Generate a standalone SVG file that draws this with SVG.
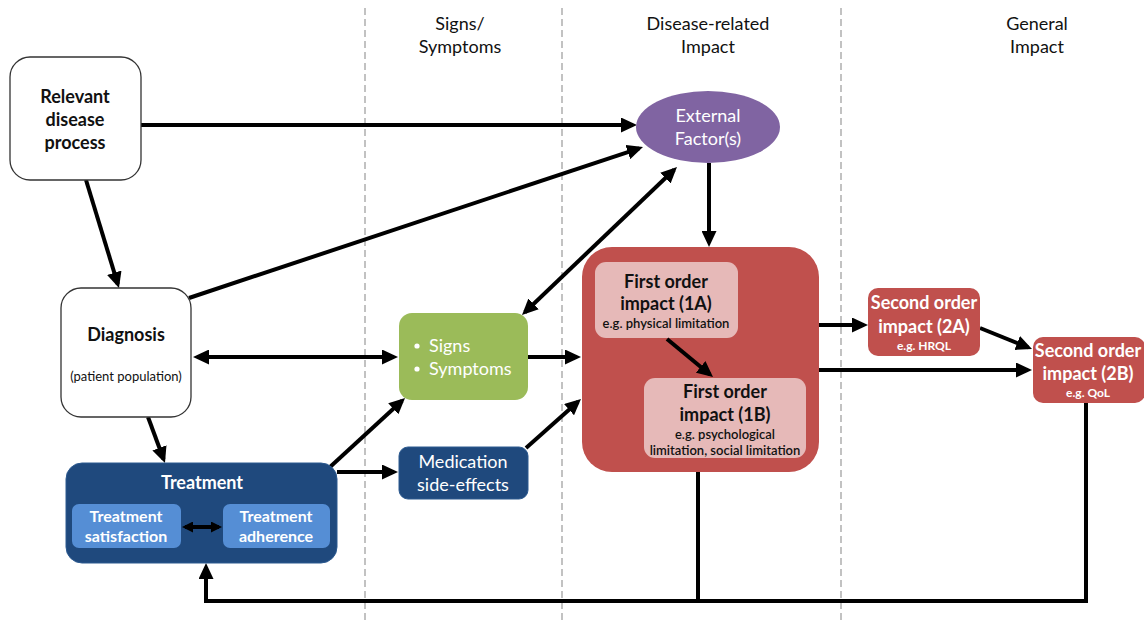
<svg xmlns="http://www.w3.org/2000/svg" width="1144" height="621" viewBox="0 0 1144 621">
<style>
text{font-family:Lato,"Open Sans","Liberation Sans",sans-serif;text-anchor:middle}
.hdr{font-size:18px;fill:#111}
.b{font-weight:bold}
.w{fill:#fff}
.k{fill:#111}
.n17{font-size:18px}
.n15{font-size:16px}
.s12{font-size:13px}
.s11{font-size:12px}
.dash{stroke:#9a9a9a;stroke-width:1.2;stroke-dasharray:7,4;fill:none}
.c{stroke:#000;stroke-width:4;fill:none}
</style>
<defs>
<marker id="ah" markerUnits="userSpaceOnUse" markerWidth="16" markerHeight="15" viewBox="0 0 16 15" refX="12" refY="7.5" orient="auto-start-reverse">
<path d="M0,0 L16,7.5 L0,15 z" fill="#000"/>
</marker>
<marker id="ahs" markerUnits="userSpaceOnUse" markerWidth="11" markerHeight="11" viewBox="0 0 11 11" refX="8" refY="5.5" orient="auto-start-reverse">
<path d="M0,0 L11,5.5 L0,11 z" fill="#000"/>
</marker>
</defs>

<g id="dividers">
<line class="dash" x1="365" y1="8" x2="365" y2="621"/>
<line class="dash" x1="562" y1="8" x2="562" y2="621"/>
<line class="dash" x1="841" y1="8" x2="841" y2="621"/>
</g>

<g id="headers">
<text class="hdr" x="460" y="30">Signs/</text>
<text class="hdr" x="460" y="53">Symptoms</text>
<text class="hdr" x="708" y="30">Disease-related</text>
<text class="hdr" x="708" y="53">Impact</text>
<text class="hdr" x="1037" y="30">General</text>
<text class="hdr" x="1037" y="53">Impact</text>
</g>

<g id="connectors">
<path class="c" d="M141,125 L633,125" marker-end="url(#ah)"/>
<path class="c" d="M86,180 L117.8,284.2" marker-end="url(#ah)"/>
<path class="c" d="M189,298 L639.2,148.3" marker-end="url(#ah)"/>
<path class="c" d="M197,357 L394,357" marker-start="url(#ah)" marker-end="url(#ah)"/>
<path class="c" d="M524.9,312.2 L674.1,169.8" marker-start="url(#ah)" marker-end="url(#ah)"/>
<path class="c" d="M528,357 L577,357" marker-end="url(#ah)"/>
<path class="c" d="M148,417 L163.6,459.2" marker-end="url(#ah)"/>
<path class="c" d="M330,467 L402.1,400.7" marker-end="url(#ah)"/>
<path class="c" d="M337,472 L394,472" marker-end="url(#ah)"/>
<path class="c" d="M526,448 L578,401.7" marker-end="url(#ah)"/>
<path class="c" d="M709,163 L709,243" marker-end="url(#ah)"/>
<path class="c" d="M819,325 L864,325" marker-end="url(#ah)"/>
<path class="c" d="M980,328 L1028.3,347.5" marker-end="url(#ah)"/>
<path class="c" d="M819,370 L1028,370" marker-end="url(#ah)"/>
<path class="c" d="M698,472 L698,601"/>
<path class="c" d="M1086,403 L1086,601 L206,601 L206,567" marker-end="url(#ah)"/>
</g>

<g id="relevant">
<rect x="10" y="57" width="131" height="123" rx="20" fill="#fff" stroke="#333" stroke-width="1.3"/>
<text class="n17 b k" x="75" y="103">Relevant</text>
<text class="n17 b k" x="75" y="126">disease</text>
<text class="n17 b k" x="75" y="149">process</text>
</g>

<g id="external">
<ellipse cx="708" cy="127" rx="72" ry="36" fill="#8064A2"/>
<text class="n17 w" x="708" y="122">External</text>
<text class="n17 w" x="708" y="145">Factor(s)</text>
</g>

<g id="diagnosis">
<rect x="61" y="288" width="130" height="129" rx="20" fill="#fff" stroke="#333" stroke-width="1.3"/>
<text class="n17 b k" x="126" y="341">Diagnosis</text>
<text class="s12 k" x="126" y="381">(patient population)</text>
</g>

<g id="signs">
<rect x="399" y="313" width="129" height="87" rx="13" fill="#9BBB59"/>
<circle cx="417" cy="346" r="2.6" fill="#fff"/>
<circle cx="417" cy="369" r="2.6" fill="#fff"/>
<text class="n17 w" x="429" y="352" style="text-anchor:start">Signs</text>
<text class="n17 w" x="429" y="375" style="text-anchor:start">Symptoms</text>
</g>

<g id="medication">
<rect x="399" y="447" width="129" height="52" rx="9" fill="#1F497D" stroke="#2c5a90" stroke-width="1"/>
<text class="n17 w" x="463" y="468">Medication</text>
<text class="n17 w" x="463" y="491">side-effects</text>
</g>

<g id="treatment">
<rect x="66" y="463" width="271" height="100" rx="16" fill="#1F497D" stroke="#2c5a90" stroke-width="1"/>
<text class="n17 b w" x="202" y="489">Treatment</text>
<rect x="72" y="504" width="109" height="44" rx="7" fill="#558ED5"/>
<text class="n15 b w" x="126" y="522">Treatment</text>
<text class="n15 b w" x="126" y="542">satisfaction</text>
<rect x="223" y="504" width="107" height="44" rx="7" fill="#558ED5"/>
<text class="n15 b w" x="276" y="522">Treatment</text>
<text class="n15 b w" x="276" y="542">adherence</text>
<path class="c" d="M185,527 L219,527" marker-start="url(#ahs)" marker-end="url(#ahs)"/>
</g>

<g id="first-order">
<rect x="582" y="247" width="237" height="225" rx="30" fill="#C0504D"/>
</g>

<g id="impact-1a">
<rect x="595" y="262" width="143" height="76" rx="11" fill="#E6B9B8"/>
<text class="n17 b k" x="666" y="288">First order</text>
<text class="n17 b k" x="666" y="310">impact (1A)</text>
<text class="s12 k" x="666" y="328" style="font-weight:600">e.g. physical limitation</text>
</g>

<g id="impact-1b">
<rect x="644" y="378" width="162" height="80" rx="11" fill="#E6B9B8"/>
<text class="n17 b k" x="725" y="398">First order</text>
<text class="n17 b k" x="725" y="421">impact (1B)</text>
<text class="s12 k" x="725" y="439" style="font-weight:600">e.g. psychological</text>
<text class="s12 k" x="725" y="455" style="font-weight:600">limitation, social limitation</text>
</g>
<path class="c" d="M667,339 L709.9,374.5" marker-end="url(#ah)"/>

<g id="impact-2a">
<rect x="868" y="288" width="112" height="68" rx="10" fill="#C0504D"/>
<text class="n17 b w" x="924" y="309">Second order</text>
<text class="n17 b w" x="924" y="333">impact (2A)</text>
<text class="s11 b w" x="924" y="350">e.g. HRQL</text>
</g>

<g id="impact-2b">
<rect x="1033" y="337" width="112" height="66" rx="10" fill="#C0504D"/>
<text class="n17 b w" x="1088" y="357">Second order</text>
<text class="n17 b w" x="1088" y="380">impact (2B)</text>
<text class="s11 b w" x="1088" y="397">e.g. QoL</text>
</g>
</svg>
